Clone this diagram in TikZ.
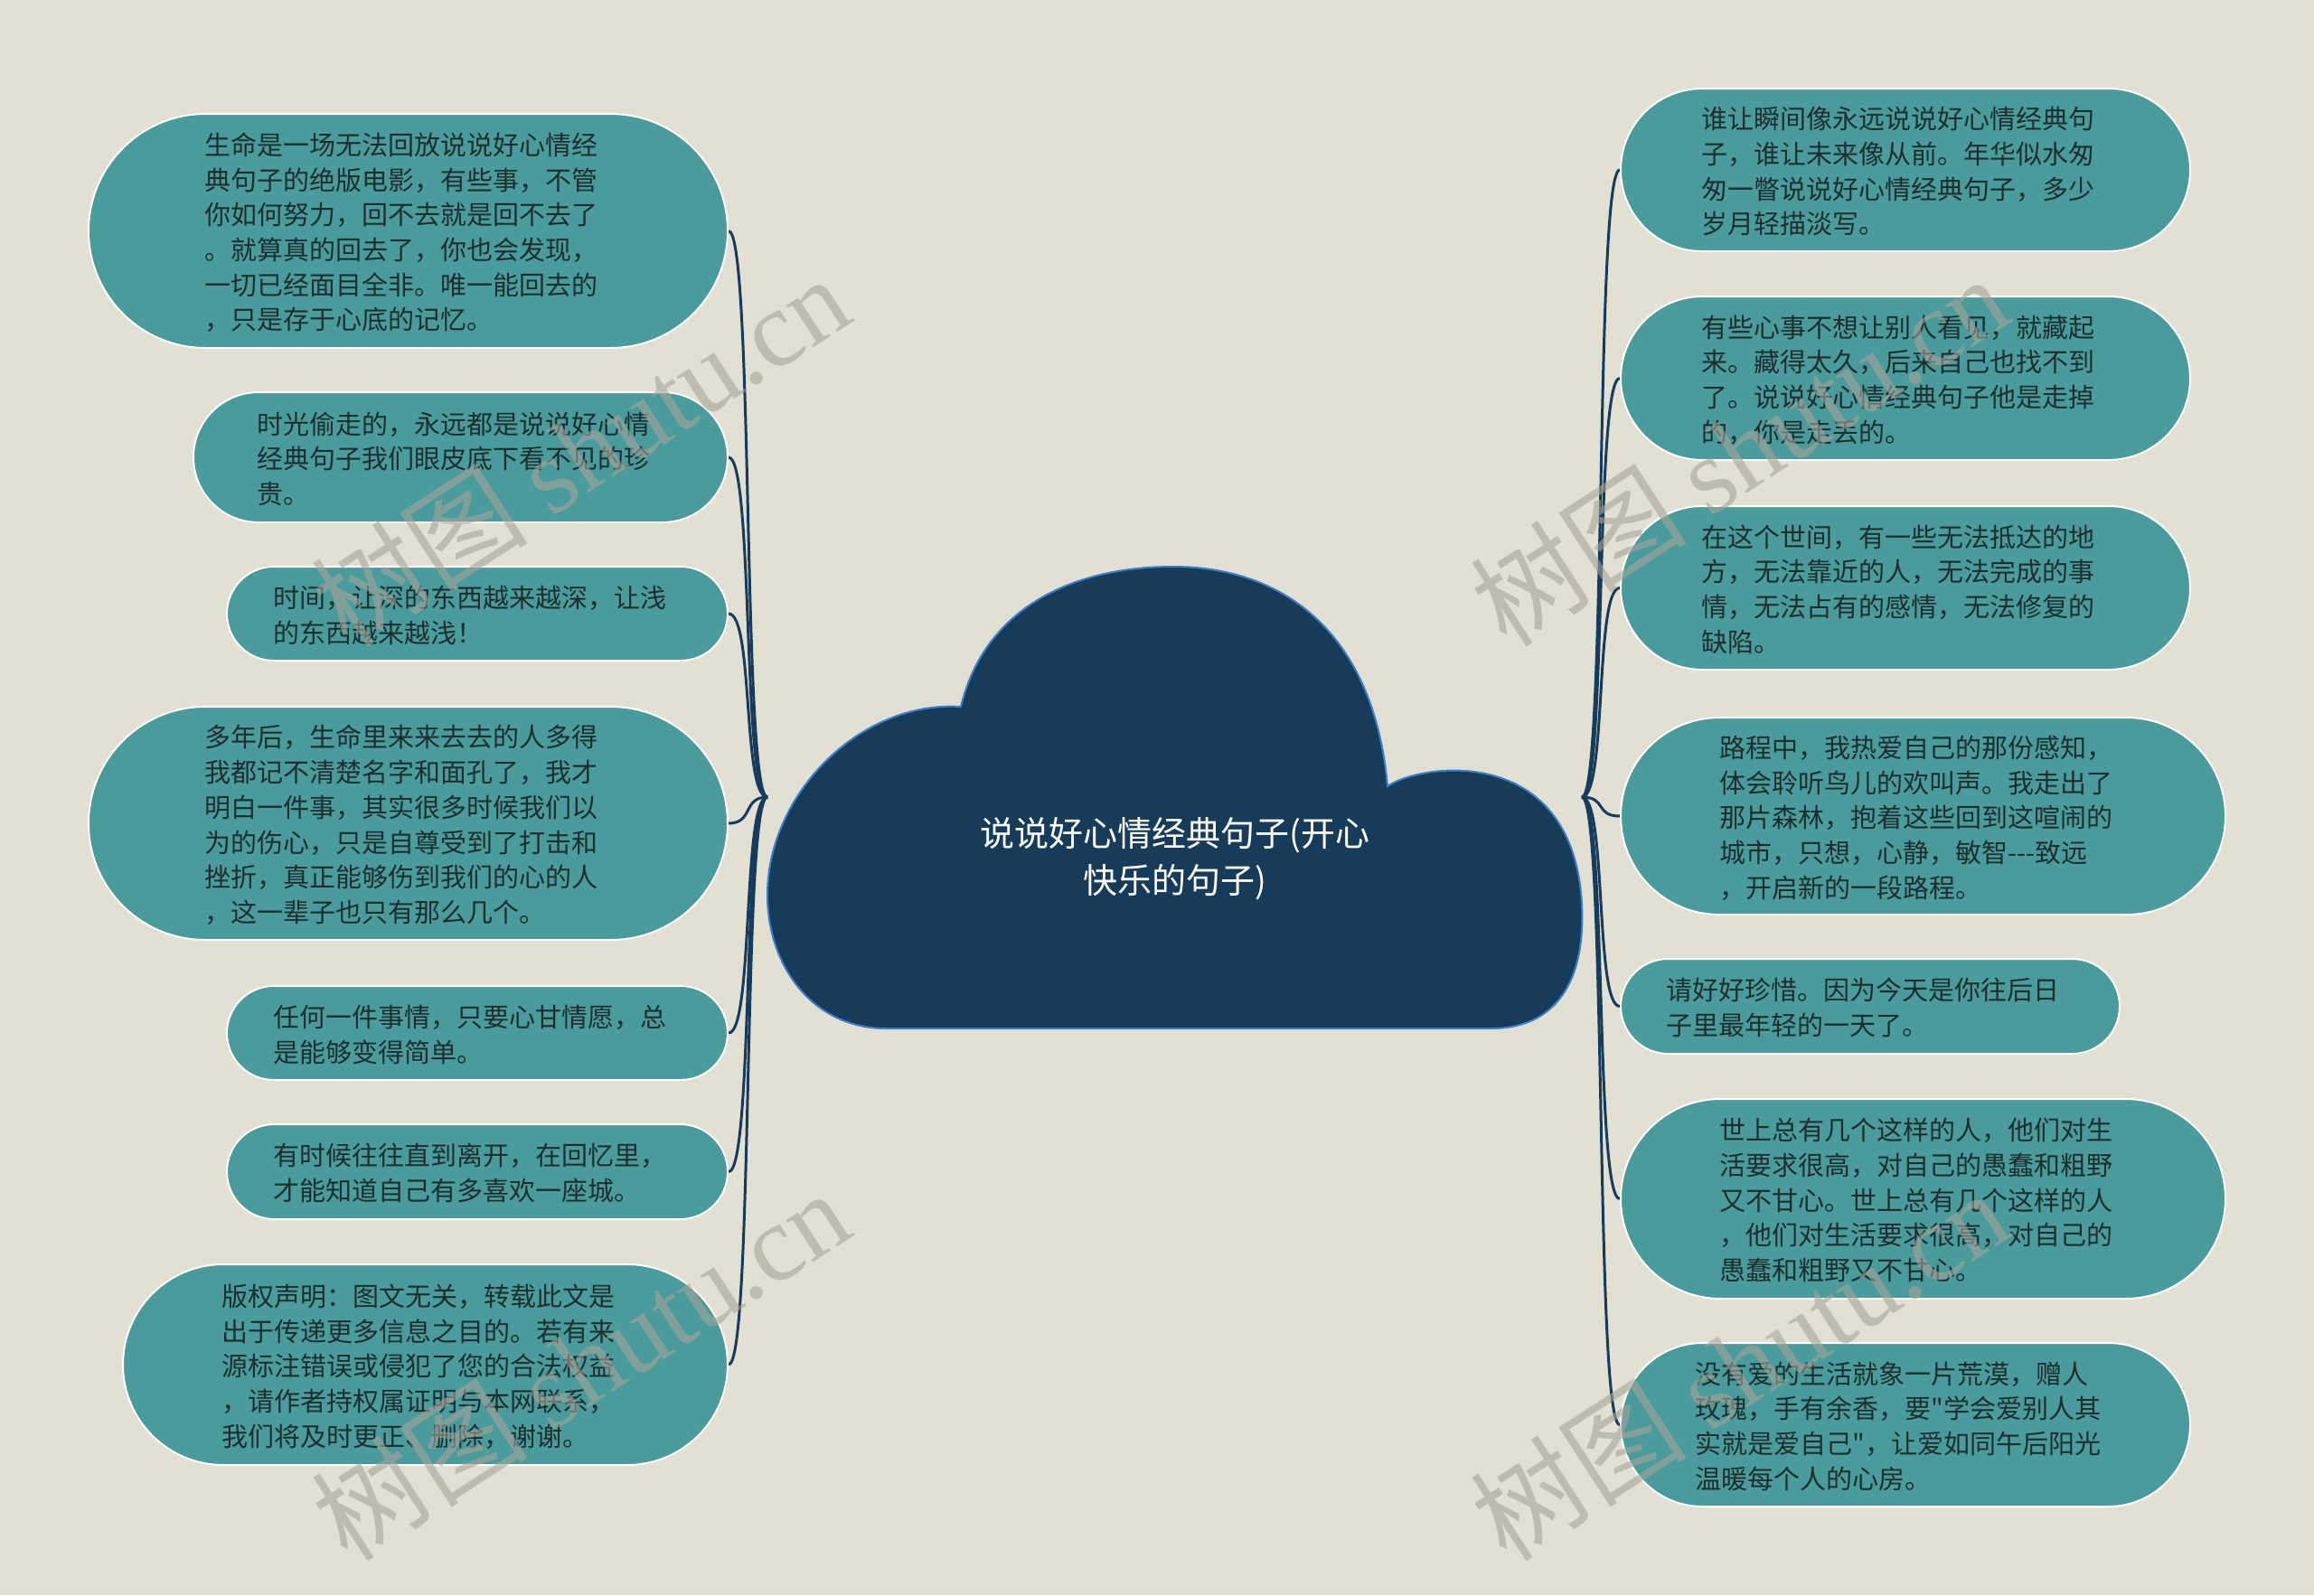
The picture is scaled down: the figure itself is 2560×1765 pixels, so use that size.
\documentclass[tikz,border=0pt]{standalone}
\usepackage{fontspec}
\setmainfont{Noto Sans CJK SC}[Ligatures=TeXOff]
\newfontfamily\wmfont{Liberation Serif}
\usetikzlibrary{shapes.misc}
\pgfdeclarelayer{bgl}
\pgfdeclarelayer{linel}
\pgfsetlayers{bgl,linel,main}
\definecolor{bg}{HTML}{E1E0D3}
\definecolor{leaffill}{HTML}{4A9B9C}
\definecolor{leaftext}{HTML}{1E2E2E}
\definecolor{cloudfill}{HTML}{173C5A}
\definecolor{cloudborder}{HTML}{3E7EC4}
\definecolor{connc}{HTML}{173B5A}
\definecolor{wmc}{HTML}{A4A497}
\newcommand\leaftxt[1]{\begin{tabular}{@{}l@{\hspace{16pt}}}\rule{0pt}{37pt}#1\end{tabular}}
\begin{document}
\begin{tikzpicture}[x=1pt,y=-1pt,
  leaf/.style={rounded rectangle, fill=leaffill, draw=white, line width=2pt,
    inner sep=0pt, text=leaftext,
    font=\fontsize{29}{38.7}\selectfont},
  conn/.style={draw=connc, line width=3pt},
  cloudshape/.style={fill=cloudfill, draw=cloudborder, line width=2pt},
  roottext/.style={text=white, align=center, font=\fontsize{38}{52}\selectfont},
  wm/.style={text=wmc, opacity=0.6, rotate=33, font=\fontsize{120}{130}\selectfont}]
\useasboundingbox (0,0) rectangle (2560,1765);
\begin{pgfonlayer}{bgl}
\fill[bg] (0,0) rectangle (2560,1765);
\end{pgfonlayer}

% root anchor points
\coordinate (lroot) at (849,882);
\coordinate (rroot) at (1750,882);

% left nodes
\node[leaf, minimum width=707, minimum height=259] (L1) at (451.5,255.5) {\leaftxt{生命是一场无法回放说说好心情经\\典句子的绝版电影，有些事，不管\\你如何努力，回不去就是回不去了\\。就算真的回去了，你也会发现，\\一切已经面目全非。唯一能回去的\\，只是存于心底的记忆。}};
\node[leaf, minimum width=591, minimum height=144] (L2) at (509.5,506) {\leaftxt{时光偷走的，永远都是说说好心情\\经典句子我们眼皮底下看不见的珍\\贵。}};
\node[leaf, minimum width=554, minimum height=104] (L3) at (528,679) {\leaftxt{时间，让深的东西越来越深，让浅\\的东西越来越浅！}};
\node[leaf, minimum width=707, minimum height=258] (L4) at (451.5,911) {\leaftxt{多年后，生命里来来去去的人多得\\我都记不清楚名字和面孔了，我才\\明白一件事，其实很多时候我们以\\为的伤心，只是自尊受到了打击和\\挫折，真正能够伤到我们的心的人\\，这一辈子也只有那么几个。}};
\node[leaf, minimum width=554, minimum height=104] (L5) at (528,1143) {\leaftxt{任何一件事情，只要心甘情愿，总\\是能够变得简单。}};
\node[leaf, minimum width=554, minimum height=105] (L6) at (528,1296.5) {\leaftxt{有时候往往直到离开，在回忆里，\\才能知道自己有多喜欢一座城。}};
\node[leaf, minimum width=669, minimum height=222] (L7) at (470.5,1510) {\leaftxt{版权声明：图文无关，转载此文是\\出于传递更多信息之目的。若有来\\源标注错误或侵犯了您的合法权益\\，请作者持权属证明与本网联系，\\我们将及时更正、删除，谢谢。}};

% right nodes
\node[leaf, minimum width=630, minimum height=180] (R1) at (2108,188) {\leaftxt{谁让瞬间像永远说说好心情经典句\\子，谁让未来像从前。年华似水匆\\匆一瞥说说好心情经典句子，多少\\岁月轻描淡写。}};
\node[leaf, minimum width=630, minimum height=181] (R2) at (2108,418.5) {\leaftxt{有些心事不想让别人看见，就藏起\\来。藏得太久，后来自己也找不到\\了。说说好心情经典句子他是走掉\\的，你是走丢的。}};
\node[leaf, minimum width=630, minimum height=181] (R3) at (2108,650.5) {\leaftxt{在这个世间，有一些无法抵达的地\\方，无法靠近的人，无法完成的事\\情，无法占有的感情，无法修复的\\缺陷。}};
\node[leaf, minimum width=669, minimum height=218] (R4) at (2127.5,903) {\leaftxt{路程中，我热爱自己的那份感知，\\体会聆听鸟儿的欢叫声。我走出了\\那片森林，抱着这些回到这喧闹的\\城市，只想，心静，敏智---致远\\，开启新的一段路程。}};
\node[leaf, minimum width=552, minimum height=105] (R5) at (2069,1113.5) {\leaftxt{请好好珍惜。因为今天是你往后日\\子里最年轻的一天了。}};
\node[leaf, minimum width=669, minimum height=221] (R6) at (2127.5,1326.5) {\leaftxt{世上总有几个这样的人，他们对生\\活要求很高，对自己的愚蠢和粗野\\又不甘心。世上总有几个这样的人\\，他们对生活要求很高，对自己的\\愚蠢和粗野又不甘心。}};
\node[leaf, minimum width=630, minimum height=181] (R7) at (2108,1576.5) {\leaftxt{没有爱的生活就象一片荒漠，赠人\\玫瑰，手有余香，要"学会爱别人其\\实就是爱自己"，让爱如同午后阳光\\温暖每个人的心房。}};

% connectors (behind nodes)
\begin{pgfonlayer}{linel}
\foreach \n in {L1,L2,L3,L4,L5,L6,L7}
  \draw[conn] (lroot) .. controls +(-28,0) and +(28,0) .. (\n.east);
\foreach \n in {R1,R2,R3,R4,R5,R6,R7}
  \draw[conn] (rroot) .. controls +(28,0) and +(-28,0) .. (\n.west);
\end{pgfonlayer}

% cloud
\path[cloudshape] (980,1138) .. controls (900,1138) and (849,1070) .. (849,990)
  .. controls (849,880) and (950,775) .. (1063,782)
  .. controls (1090,670) and (1190,627) .. (1298,627)
  .. controls (1420,627) and (1520,700) .. (1535,870)
  .. controls (1570,845) and (1740,820) .. (1750,1000)
  .. controls (1755,1100) and (1710,1138) .. (1650,1138) -- cycle;
\node[roottext] (root) at (1300,950) {说说好心情经典句子(开心\\快乐的句子)};

% watermarks
\node[wm] (wm1) at (642,498) {树图 {\wmfont shutu.cn}};
\node[wm] (wm2) at (1924,498) {树图 {\wmfont shutu.cn}};
\node[wm] (wm3) at (642,1510) {树图 {\wmfont shutu.cn}};
\node[wm] (wm4) at (1924,1510) {树图 {\wmfont shutu.cn}};
\end{tikzpicture}
\end{document}
